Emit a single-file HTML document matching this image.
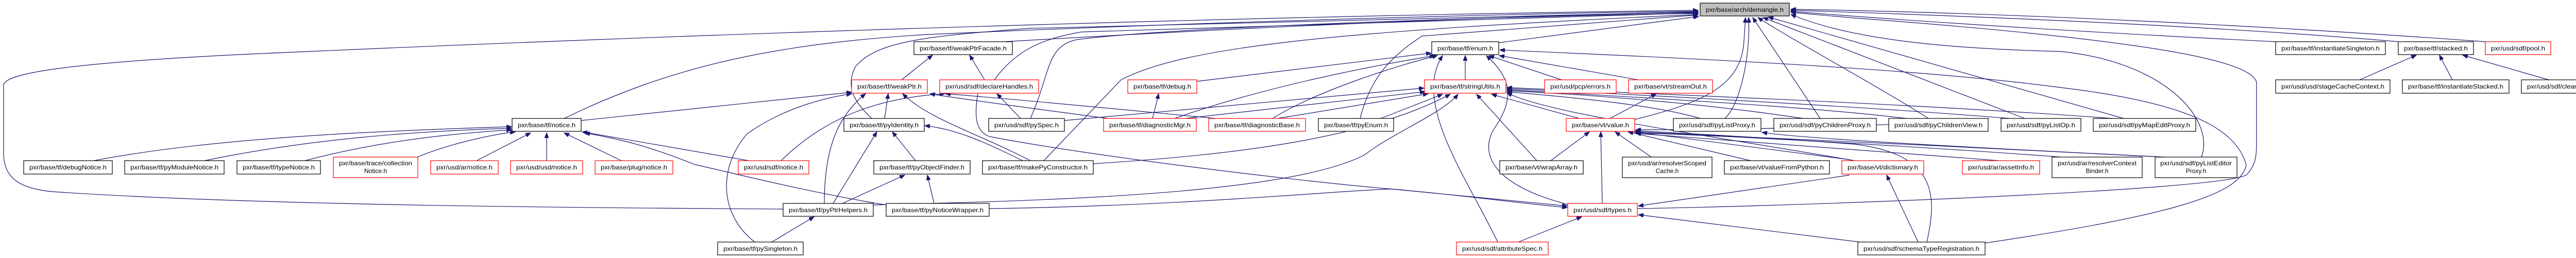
<!DOCTYPE html>
<html><head><meta charset="utf-8"><style>
html,body{margin:0;padding:0;background:#fff;}
svg{display:block;}
text{font-family:"Liberation Sans",Arial,sans-serif;font-size:12px;fill:#000;}
.e{fill:none;stroke:#191970;stroke-width:1.2;}
</style></head><body>
<svg width="5091" height="501" viewBox="0 0 5091 501" xmlns="http://www.w3.org/2000/svg">
<defs><marker id="a" markerUnits="userSpaceOnUse" markerWidth="11" markerHeight="8" refX="10" refY="4" orient="auto"><path d="M0,0 L10,4 L0,8 z" fill="#191970" stroke="#191970"/></marker></defs>
<g class="e" marker-end="url(#a)">
<path d="M1520,406 C1200,404 500,400 100,372 C30,365 8,340 7,300 L7,165 C10,145 100,120 600,100 C1500,60 2500,30 3296,20"/>
<path d="M1095,230 C1300,130 1500,85 1800,67 C2400,40 3000,25 3296,22"/>
<path d="M1692,230 C1660,200 1640,170 1660,130 C1700,80 1800,70 2000,55 L3296,23"/>
<path d="M1950,81 C2300,60 2900,30 3296,24"/>
<path d="M1930,155 C1970,100 2020,75 2100,62 L3296,25"/>
<path d="M2000,230 C2040,140 2030,90 2090,77 C2300,50 3000,30 3296,26"/>
<path d="M2026,312 L2176,155 C2300,90 2600,60 3296,28"/>
<path d="M2640,230 C2660,150 2700,110 2760,70 L3296,29"/>
<path d="M2909,83 L3297,32"/>
<path d="M3173,232 C3300,200 3380,170 3385,80 L3388,34"/>
<path d="M3348,230 C3380,200 3398,100 3394,34"/>
<path d="M3533,230 L3402,34"/>
<path d="M3743,230 C3650,170 3500,90 3412,34"/>
<path d="M3930,230 L3422,34"/>
<path d="M4122,230 L3432,33"/>
<path d="M4273,305 C4300,230 4200,120 4000,100 C3800,95 3600,80 3476,28"/>
<path d="M3178,405 C3500,400 4300,370 4360,340 C4380,320 4380,300 4380,267 L4380,160 C4370,120 4200,80 3600,35 L3476,24"/>
<path d="M4417,81 C4000,60 3700,40 3476,22"/>
<path d="M4655,81 C4300,50 3800,30 3476,20"/>
<path d="M4824,81 C4400,50 3900,25 3476,18"/>
<path d="M2844,155 L2844,108"/>
<path d="M3031,155 L2890,108"/>
<path d="M3180,155 L2910,108"/>
<path d="M2907,470 C2850,350 2740,200 2800,108"/>
<path d="M3043,397 C2900,360 2870,300 2900,250 C2950,180 2920,140 2885,108"/>
<path d="M3853,472 C4200,420 4350,380 4360,320 C4340,250 4250,200 4000,170 C3700,130 3200,110 2911,97"/>
<path d="M2323,158 L2778,103"/>
<path d="M2470,230 C2550,180 2700,130 2790,108"/>
<path d="M2280,230 C2450,170 2650,130 2785,108"/>
<path d="M3065,230 L2895,183"/>
<path d="M2983,312 L2866,183"/>
<path d="M2066,234 L2764,171"/>
<path d="M2300,230 L2766,178"/>
<path d="M2480,230 L2772,182"/>
<path d="M2680,230 L2800,183"/>
<path d="M2122,318 C2400,300 2650,270 2815,183"/>
<path d="M1695,398 C2000,390 2500,380 2650,300 C2700,260 2800,220 2830,183"/>
<path d="M3300,230 C3200,200 3000,185 2925,178"/>
<path d="M3500,230 C3300,200 3100,185 2925,176"/>
<path d="M3700,230 C3500,205 3100,185 2925,174"/>
<path d="M3900,230 C3600,205 3100,180 2925,172"/>
<path d="M4100,230 C3700,200 3100,178 2925,170"/>
<path d="M3600,312 C3300,260 3000,220 2925,180"/>
<path d="M3010,312 L3085,256"/>
<path d="M3110,395 L3107,256"/>
<path d="M3205,305 L3135,256"/>
<path d="M3398,312 L3160,256"/>
<path d="M3590,310 L3172,256"/>
<path d="M4200,305 C3900,290 3400,265 3175,256"/>
<path d="M4000,305 C3800,290 3400,265 3175,258"/>
<path d="M3880,312 C3600,290 3300,270 3175,259"/>
<path d="M3740,470 C3760,380 3760,300 3600,280 C3400,265 3250,258 3175,254"/>
<path d="M3860,230 C3600,250 3300,252 3175,252"/>
<path d="M4200,305 C3900,290 3500,270 3420,257"/>
<path d="M3125,230 L3215,182"/>
<path d="M2947,470 L3070,421"/>
<path d="M3610,470 L3180,417"/>
<path d="M3590,340 L3180,400"/>
<path d="M1898,182 C1890,230 1895,255 1920,265 C2100,300 2500,350 2700,367 C2850,380 2950,395 3042,403"/>
<path d="M1920,405 C2300,400 2600,370 2700,367 L3042,400"/>
<path d="M3723,470 L3662,340"/>
<path d="M1128,234 L1653,179"/>
<path d="M1465,470 C1400,420 1390,330 1450,260 C1520,210 1600,190 1653,182"/>
<path d="M1516,312 C1600,230 1700,190 1834,182"/>
<path d="M1600,395 C1600,300 1620,230 1680,182"/>
<path d="M1717,230 L1724,182"/>
<path d="M2000,312 C1900,260 1800,230 1752,182"/>
<path d="M1750,155 L1810,107"/>
<path d="M1911,155 L1882,107"/>
<path d="M1981,230 L1935,182"/>
<path d="M2237,230 L2249,182"/>
<path d="M2150,230 C2000,210 1850,190 1805,182"/>
<path d="M2360,230 C2200,215 2000,195 1835,182"/>
<path d="M1985,312 C1900,270 1850,250 1795,244"/>
<path d="M1777,312 L1732,256"/>
<path d="M1617,395 L1702,256"/>
<path d="M1635,395 L1756,340"/>
<path d="M1813,395 L1800,340"/>
<path d="M1498,470 L1580,421"/>
<path d="M182,312 C400,270 700,255 993,246"/>
<path d="M397,312 C600,270 800,255 993,249"/>
<path d="M592,312 C750,270 900,258 993,252"/>
<path d="M810,305 C870,280 950,262 1000,256"/>
<path d="M925,312 L1030,258"/>
<path d="M1061,312 L1061,258"/>
<path d="M1206,312 L1095,258"/>
<path d="M1453,312 L1130,256"/>
<path d="M1720,398 C1550,370 1400,330 1350,320 C1250,280 1200,270 1135,258"/>
<path d="M4580,155 L4690,107"/>
<path d="M4760,155 L4735,107"/>
<path d="M4947,155 L4780,107"/>
</g>
<g stroke-width="1.2">
<rect x="3300" y="6" width="173" height="25" fill="#bfbfbf" stroke="#000"/>
<text x="3386.5" y="23" text-anchor="middle" textLength="151" lengthAdjust="spacingAndGlyphs">pxr/base/arch/demangle.h</text>
</g>
<g fill="#fff" stroke-width="1.2">
<rect x="1774" y="81" width="191" height="25" stroke="#000"/>
<rect x="2779" y="81" width="130" height="25" stroke="#000"/>
<rect x="4417" y="81" width="213" height="25" stroke="#000"/>
<rect x="4655" y="81" width="146" height="25" stroke="#000"/>
<rect x="4824" y="81" width="127" height="25" stroke="#f00"/>
<rect x="1653" y="155" width="147" height="26" stroke="#f00"/>
<rect x="1824" y="155" width="192" height="26" stroke="#f00"/>
<rect x="2189" y="155" width="134" height="26" stroke="#f00"/>
<rect x="2765" y="155" width="158" height="26" stroke="#f00"/>
<rect x="2998" y="155" width="139" height="26" stroke="#f00"/>
<rect x="3161" y="155" width="163" height="26" stroke="#f00"/>
<rect x="4417" y="155" width="222" height="26" stroke="#000"/>
<rect x="4663" y="155" width="207" height="26" stroke="#000"/>
<rect x="4894" y="155" width="191" height="26" stroke="#000"/>
<rect x="994" y="230" width="134" height="25" stroke="#000"/>
<rect x="1638" y="230" width="156" height="25" stroke="#000"/>
<rect x="1919" y="230" width="147" height="25" stroke="#000"/>
<rect x="2142" y="230" width="180" height="25" stroke="#f00"/>
<rect x="2346" y="230" width="188" height="25" stroke="#f00"/>
<rect x="2559" y="230" width="146" height="25" stroke="#000"/>
<rect x="3040" y="230" width="133" height="25" stroke="#f00"/>
<rect x="3248" y="230" width="170" height="25" stroke="#000"/>
<rect x="3443" y="230" width="199" height="25" stroke="#000"/>
<rect x="3666" y="230" width="193" height="25" stroke="#000"/>
<rect x="3884" y="230" width="155" height="25" stroke="#000"/>
<rect x="4063" y="230" width="199" height="25" stroke="#000"/>
<rect x="46" y="312" width="172" height="26" stroke="#000"/>
<rect x="242" y="312" width="193" height="26" stroke="#000"/>
<rect x="460" y="312" width="162" height="26" stroke="#000"/>
<rect x="647" y="305" width="164" height="40" stroke="#f00"/>
<rect x="836" y="312" width="131" height="26" stroke="#f00"/>
<rect x="991" y="312" width="140" height="26" stroke="#f00"/>
<rect x="1155" y="312" width="151" height="26" stroke="#f00"/>
<rect x="1433" y="312" width="137" height="26" stroke="#f00"/>
<rect x="1696" y="312" width="187" height="26" stroke="#000"/>
<rect x="1907" y="312" width="215" height="26" stroke="#000"/>
<rect x="2911" y="312" width="162" height="26" stroke="#000"/>
<rect x="3149" y="305" width="174" height="40" stroke="#000"/>
<rect x="3347" y="312" width="204" height="26" stroke="#000"/>
<rect x="3575" y="312" width="159" height="26" stroke="#f00"/>
<rect x="3809" y="312" width="150" height="26" stroke="#f00"/>
<rect x="3983" y="305" width="175" height="40" stroke="#000"/>
<rect x="4183" y="305" width="159" height="40" stroke="#000"/>
<rect x="1520" y="395" width="175" height="25" stroke="#000"/>
<rect x="1720" y="395" width="200" height="25" stroke="#000"/>
<rect x="3043" y="395" width="135" height="25" stroke="#f00"/>
<rect x="1393" y="470" width="166" height="25" stroke="#000"/>
<rect x="2827" y="470" width="178" height="25" stroke="#f00"/>
<rect x="3606" y="470" width="247" height="25" stroke="#000"/>
</g>
<g text-anchor="middle">
<text x="1869.5" y="98" textLength="169" lengthAdjust="spacingAndGlyphs">pxr/base/tf/weakPtrFacade.h</text>
<text x="2844" y="98" textLength="108" lengthAdjust="spacingAndGlyphs">pxr/base/tf/enum.h</text>
<text x="4523.5" y="98" textLength="191" lengthAdjust="spacingAndGlyphs">pxr/base/tf/instantiateSingleton.h</text>
<text x="4728" y="98" textLength="124" lengthAdjust="spacingAndGlyphs">pxr/base/tf/stacked.h</text>
<text x="4887.5" y="98" textLength="105" lengthAdjust="spacingAndGlyphs">pxr/usd/sdf/pool.h</text>
<text x="1726.5" y="172" textLength="125" lengthAdjust="spacingAndGlyphs">pxr/base/tf/weakPtr.h</text>
<text x="1920" y="172" textLength="170" lengthAdjust="spacingAndGlyphs">pxr/usd/sdf/declareHandles.h</text>
<text x="2256" y="172" textLength="112" lengthAdjust="spacingAndGlyphs">pxr/base/tf/debug.h</text>
<text x="2844" y="172" textLength="136" lengthAdjust="spacingAndGlyphs">pxr/base/tf/stringUtils.h</text>
<text x="3067.5" y="172" textLength="117" lengthAdjust="spacingAndGlyphs">pxr/usd/pcp/errors.h</text>
<text x="3242.5" y="172" textLength="141" lengthAdjust="spacingAndGlyphs">pxr/base/vt/streamOut.h</text>
<text x="4528" y="172" textLength="200" lengthAdjust="spacingAndGlyphs">pxr/usd/usd/stageCacheContext.h</text>
<text x="4766.5" y="172" textLength="185" lengthAdjust="spacingAndGlyphs">pxr/base/tf/instantiateStacked.h</text>
<text x="4989.5" y="172" textLength="169" lengthAdjust="spacingAndGlyphs">pxr/usd/sdf/cleanupEnabler.h</text>
<text x="1061" y="247" textLength="112" lengthAdjust="spacingAndGlyphs">pxr/base/tf/notice.h</text>
<text x="1716" y="247" textLength="134" lengthAdjust="spacingAndGlyphs">pxr/base/tf/pyIdentity.h</text>
<text x="1992.5" y="247" textLength="125" lengthAdjust="spacingAndGlyphs">pxr/usd/sdf/pySpec.h</text>
<text x="2232" y="247" textLength="158" lengthAdjust="spacingAndGlyphs">pxr/base/tf/diagnosticMgr.h</text>
<text x="2440" y="247" textLength="166" lengthAdjust="spacingAndGlyphs">pxr/base/tf/diagnosticBase.h</text>
<text x="2632" y="247" textLength="124" lengthAdjust="spacingAndGlyphs">pxr/base/tf/pyEnum.h</text>
<text x="3106.5" y="247" textLength="111" lengthAdjust="spacingAndGlyphs">pxr/base/vt/value.h</text>
<text x="3333" y="247" textLength="148" lengthAdjust="spacingAndGlyphs">pxr/usd/sdf/pyListProxy.h</text>
<text x="3542.5" y="247" textLength="177" lengthAdjust="spacingAndGlyphs">pxr/usd/sdf/pyChildrenProxy.h</text>
<text x="3762.5" y="247" textLength="171" lengthAdjust="spacingAndGlyphs">pxr/usd/sdf/pyChildrenView.h</text>
<text x="3961.5" y="247" textLength="133" lengthAdjust="spacingAndGlyphs">pxr/usd/sdf/pyListOp.h</text>
<text x="4162.5" y="247" textLength="177" lengthAdjust="spacingAndGlyphs">pxr/usd/sdf/pyMapEditProxy.h</text>
<text x="132" y="329" textLength="150" lengthAdjust="spacingAndGlyphs">pxr/base/tf/debugNotice.h</text>
<text x="338.5" y="329" textLength="171" lengthAdjust="spacingAndGlyphs">pxr/base/tf/pyModuleNotice.h</text>
<text x="541" y="329" textLength="140" lengthAdjust="spacingAndGlyphs">pxr/base/tf/typeNotice.h</text>
<text x="729" y="321" textLength="142" lengthAdjust="spacingAndGlyphs">pxr/base/trace/collection</text>
<text x="729" y="336">Notice.h</text>
<text x="901.5" y="329" textLength="109" lengthAdjust="spacingAndGlyphs">pxr/usd/ar/notice.h</text>
<text x="1061" y="329" textLength="118" lengthAdjust="spacingAndGlyphs">pxr/usd/usd/notice.h</text>
<text x="1230.5" y="329" textLength="129" lengthAdjust="spacingAndGlyphs">pxr/base/plug/notice.h</text>
<text x="1501.5" y="329" textLength="115" lengthAdjust="spacingAndGlyphs">pxr/usd/sdf/notice.h</text>
<text x="1789.5" y="329" textLength="165" lengthAdjust="spacingAndGlyphs">pxr/base/tf/pyObjectFinder.h</text>
<text x="2014.5" y="329" textLength="193" lengthAdjust="spacingAndGlyphs">pxr/base/tf/makePyConstructor.h</text>
<text x="2992" y="329" textLength="140" lengthAdjust="spacingAndGlyphs">pxr/base/vt/wrapArray.h</text>
<text x="3236" y="321" textLength="152" lengthAdjust="spacingAndGlyphs">pxr/usd/ar/resolverScoped</text>
<text x="3236" y="336">Cache.h</text>
<text x="3449" y="329" textLength="182" lengthAdjust="spacingAndGlyphs">pxr/base/vt/valueFromPython.h</text>
<text x="3654.5" y="329" textLength="137" lengthAdjust="spacingAndGlyphs">pxr/base/vt/dictionary.h</text>
<text x="3884" y="329" textLength="128" lengthAdjust="spacingAndGlyphs">pxr/usd/ar/assetInfo.h</text>
<text x="4070.5" y="321" textLength="153" lengthAdjust="spacingAndGlyphs">pxr/usd/ar/resolverContext</text>
<text x="4070.5" y="336">Binder.h</text>
<text x="4262.5" y="321" textLength="139" lengthAdjust="spacingAndGlyphs">pxr/usd/sdf/pyListEditor</text>
<text x="4262.5" y="336">Proxy.h</text>
<text x="1607.5" y="412" textLength="153" lengthAdjust="spacingAndGlyphs">pxr/base/tf/pyPtrHelpers.h</text>
<text x="1820" y="412" textLength="178" lengthAdjust="spacingAndGlyphs">pxr/base/tf/pyNoticeWrapper.h</text>
<text x="3110.5" y="412" textLength="113" lengthAdjust="spacingAndGlyphs">pxr/usd/sdf/types.h</text>
<text x="1476" y="487" textLength="144" lengthAdjust="spacingAndGlyphs">pxr/base/tf/pySingleton.h</text>
<text x="2916" y="487" textLength="156" lengthAdjust="spacingAndGlyphs">pxr/usd/sdf/attributeSpec.h</text>
<text x="3729.5" y="487" textLength="225" lengthAdjust="spacingAndGlyphs">pxr/usd/sdf/schemaTypeRegistration.h</text>
</g>
</svg>
</body></html>
